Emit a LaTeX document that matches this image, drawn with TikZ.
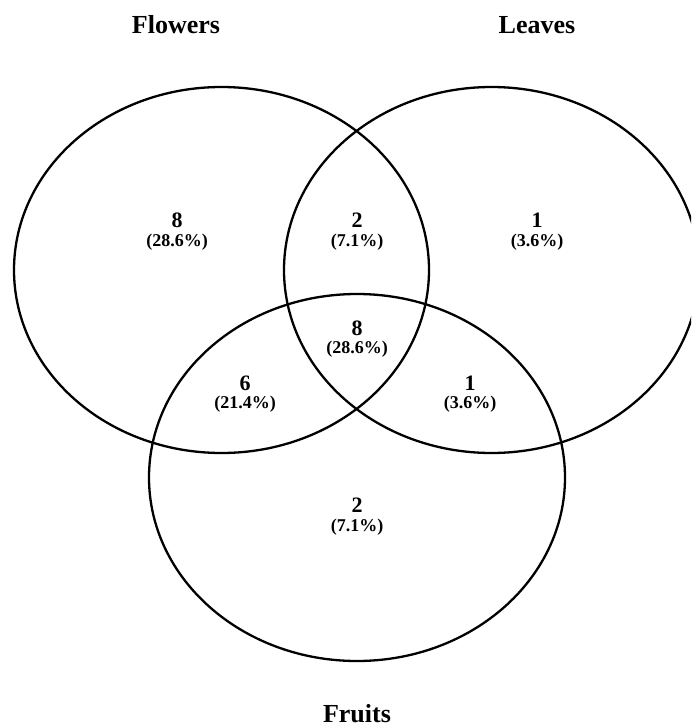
\documentclass[tikz,border=0pt]{standalone}
\usepackage{fontspec}
\setmainfont{Liberation Serif}
\usepackage{tikz}
\usetikzlibrary{positioning}

\begin{document}
\begin{tikzpicture}[x=1pt, y=-1pt,
  set/.style={black, line width=2.3pt},
  title/.style={anchor=base, inner sep=0pt, font=\fontsize{26}{26}\selectfont\bfseries},
  num/.style={anchor=base, inner sep=0pt, font=\fontsize{22}{22}\selectfont\bfseries},
  pct/.style={anchor=base, inner sep=0pt, font=\fontsize{18}{18}\selectfont\bfseries}]

\clip (0,0) rectangle (691,727);

% sets
\draw[set] (221.5,270) ellipse [x radius=207.5pt, y radius=183pt];
\draw[set] (491.5,270) ellipse [x radius=207.5pt, y radius=183pt];
\draw[set] (357,477.5) ellipse [x radius=208pt, y radius=183.5pt];

% titles
{
\node[title] (flowers) at (176,34) {Flowers};
\node[title] (leaves) at (537,34) {Leaves};
\node[title] (fruits) at (357,722) {Fruits};
}

% counts
{
\node[num] (nFl) at (177,227) {8};
\node[pct] (pFl) at (177,246) {(28.6\%)};

\node[num] (nFlLe) at (357,227) {2};
\node[pct] (pFlLe) at (357,246) {(7.1\%)};

\node[num] (nLe) at (537,227) {1};
\node[pct] (pLe) at (537,246) {(3.6\%)};

\node[num] (nAll) at (357,335) {8};
\node[pct] (pAll) at (357,353) {(28.6\%)};

\node[num] (nFlFr) at (245,390) {6};
\node[pct] (pFlFr) at (245,408) {(21.4\%)};

\node[num] (nLeFr) at (470,390) {1};
\node[pct] (pLeFr) at (470,408) {(3.6\%)};

\node[num] (nFr) at (357,512) {2};
\node[pct] (pFr) at (357,531) {(7.1\%)};
}

\end{tikzpicture}
\end{document}
